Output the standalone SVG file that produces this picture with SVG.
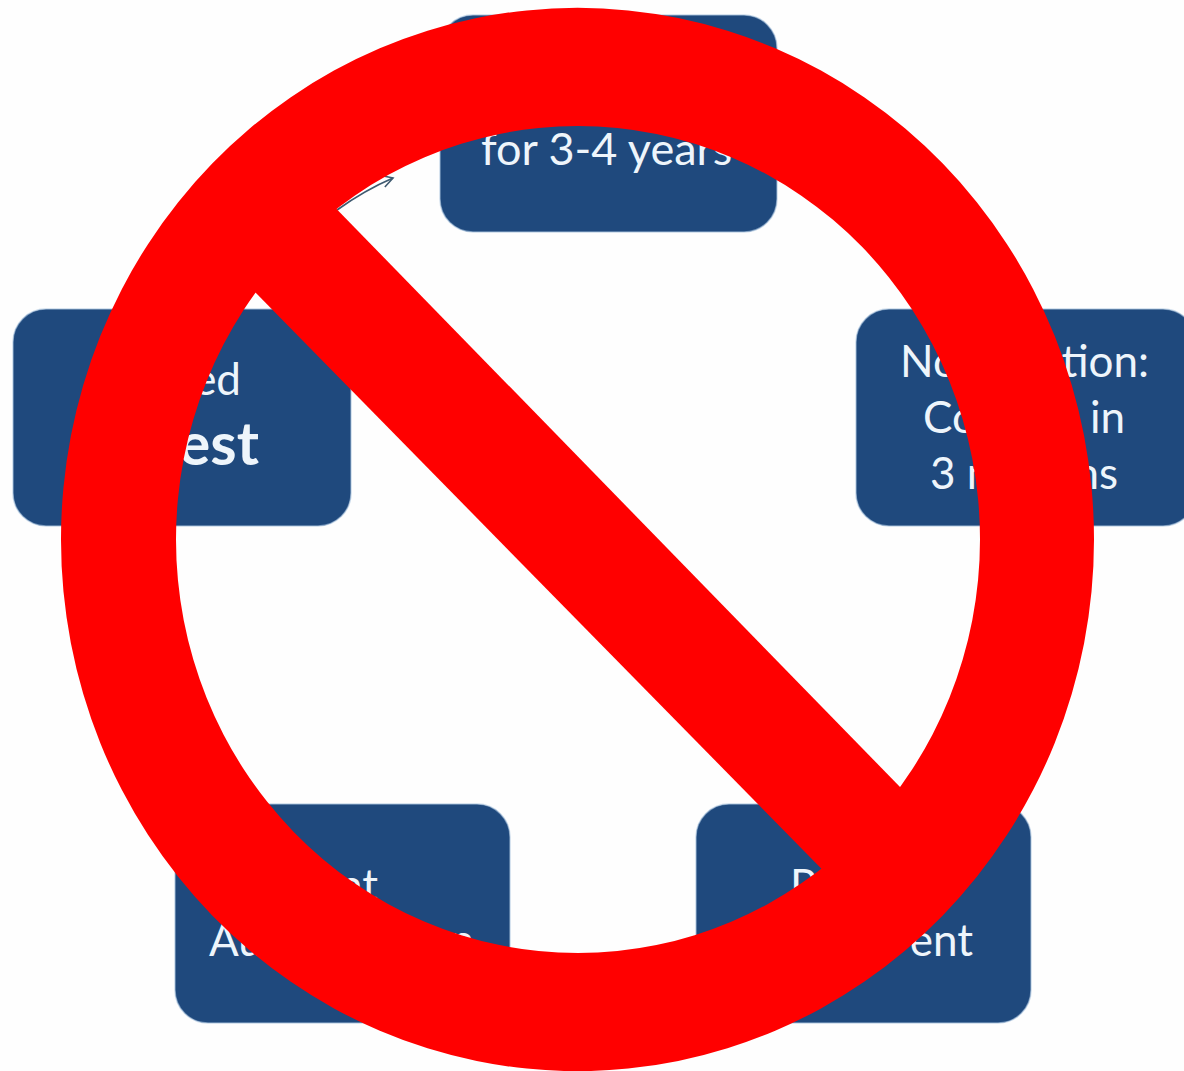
<svg xmlns="http://www.w3.org/2000/svg" width="1184" height="1071" viewBox="0 0 1184 1071">
<defs>
<marker id="open" markerUnits="userSpaceOnUse" markerWidth="18" markerHeight="18" refX="14" refY="8" orient="auto"><path d="M4 1 L14 8 L3 13" fill="none" stroke="#3f5a70" stroke-width="1.6"/></marker>
</defs>
<style>
.box{fill:#1f497d;stroke:#a9c3de;stroke-width:1.5;stroke-opacity:.6}
text{font-family:"Lato","Open Sans",sans-serif;font-size:44px;fill:#eef5fb}
.t{font-size:45px}
.b{font-weight:700;font-size:60px}
.e{text-anchor:end}
.c{fill:none;stroke:#3f5a70;stroke-width:1.8}
.no{fill:#ff0000}
</style>
<rect width="1184" height="1071" fill="#fefefe"/>
<g id="connectors"><path class="c" d="M337 210 Q365 190 393 178" marker-end="url(#open)"/></g>
<g id="node-top"><rect class="box" x="440" y="15" width="337" height="217" rx="33"/><text class="t" x="481" y="165">for 3-4 years</text></g>
<g id="node-left"><rect class="box" x="13" y="309" width="338" height="217" rx="33"/><text class="e" x="241" y="395">ed</text><text class="b e" x="259" y="465">est</text></g>
<g id="node-right"><rect class="box" x="856" y="309" width="340" height="217" rx="33"/><text x="900" y="377">No</text><text class="e" x="1149" y="377">tion:</text><text x="923" y="433">Co</text><text class="e" x="1125" y="433">in</text><text x="930" y="489">3 m</text><text class="e" x="1118" y="489">ns</text></g>
<g id="node-bottom-left"><rect class="box" x="175" y="804" width="335" height="219" rx="33"/><text class="e" x="378" y="901">nt</text><text x="209" y="956">Au</text><text class="e" x="474" y="956">n</text></g>
<g id="node-bottom-right"><rect class="box" x="696" y="804" width="335" height="219" rx="33"/><text x="790" y="901">P</text><text class="e" x="973" y="956">ent</text></g>
<g id="prohibition-sign">
<path class="no" fill-rule="evenodd" d="M61 539.5 A516.5 531.5 0 1 1 1094 539.5 A516.5 531.5 0 1 1 61 539.5 Z M176 539.5 A402 413.5 0 1 0 980 539.5 A402 413.5 0 1 0 176 539.5 Z"/>
<polygon class="no" points="280,151 940,828 860,908 195,231"/>
</g>
</svg>
